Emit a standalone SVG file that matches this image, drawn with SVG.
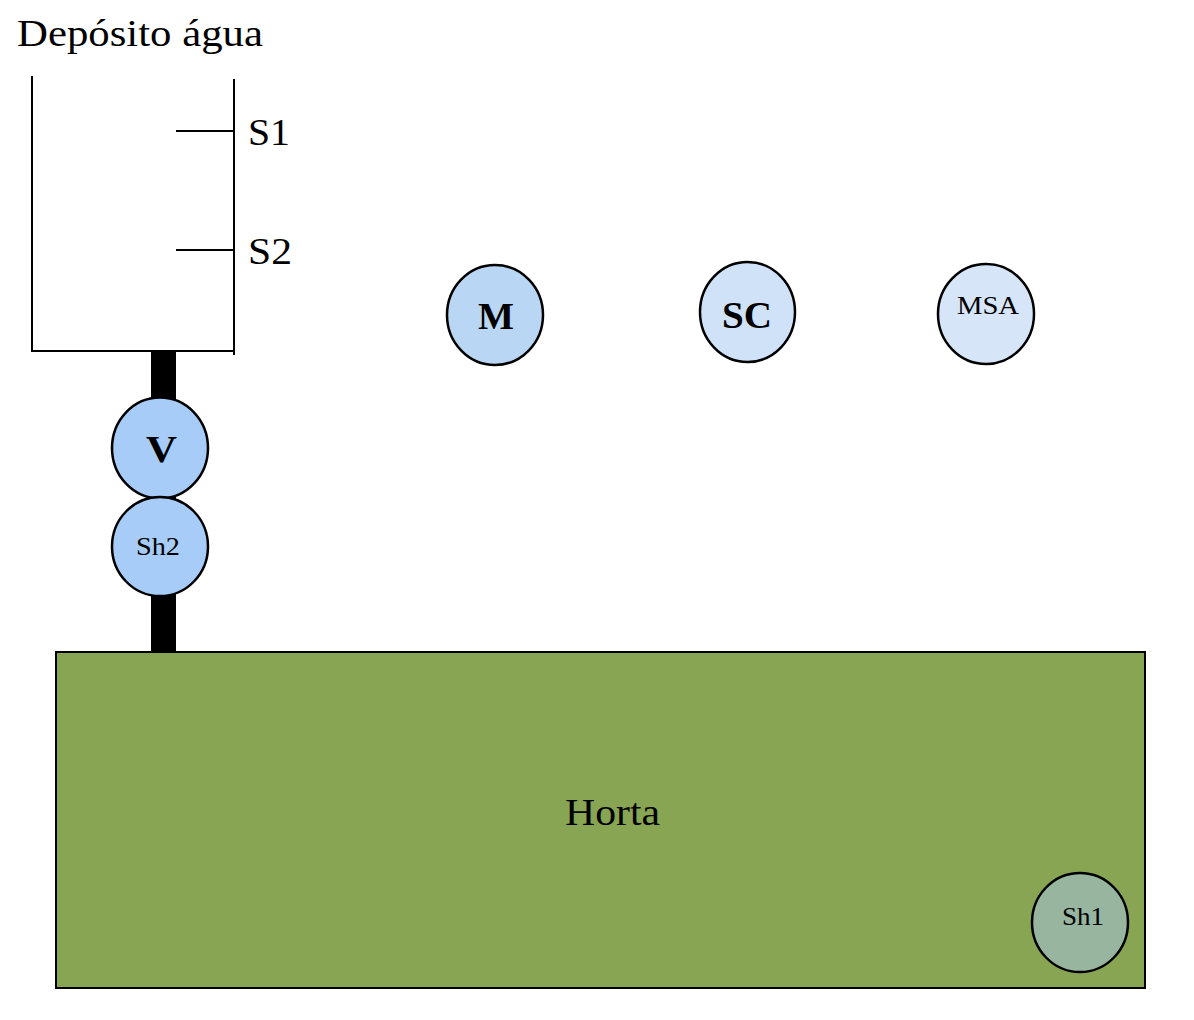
<svg xmlns="http://www.w3.org/2000/svg" width="1194" height="1020" viewBox="0 0 1194 1020">
<style>
text{font-family:"Liberation Serif","Times New Roman",serif;fill:#000}
.big{font-size:38px}
.sm{font-size:25px}
.b{font-weight:bold}
.node{stroke:#000;stroke-width:2.5}
.ln{stroke:#000;stroke-width:2;fill:none}
</style>
<rect width="1194" height="1020" fill="#fff"/>
<text class="big" x="17" y="46" textLength="246" lengthAdjust="spacingAndGlyphs">Depósito água</text>
<g id="tank">
<path class="ln" d="M32 76 V351 H234 M234 79 V355 M176 131 H234 M176 250 H234"/>
<text class="big" x="248" y="145" textLength="42" lengthAdjust="spacingAndGlyphs">S1</text>
<text class="big" x="248" y="264" textLength="44" lengthAdjust="spacingAndGlyphs">S2</text>
</g>
<g id="connectors">
<rect x="151" y="351" width="25" height="301" fill="#000"/>
</g>
<g id="horta">
<rect x="56" y="652" width="1089" height="336" fill="#88a553" stroke="#000" stroke-width="2"/>
<text class="big" x="565" y="825" textLength="95" lengthAdjust="spacingAndGlyphs">Horta</text>
</g>
<g id="V">
<ellipse class="node" cx="160" cy="448" rx="48" ry="50.5" fill="#a6ccf7"/>
<text class="big b" x="146" y="462" textLength="31" lengthAdjust="spacingAndGlyphs">V</text>
</g>
<g id="Sh2">
<ellipse class="node" cx="160" cy="546.5" rx="48" ry="49.5" fill="#a6ccf7"/>
<text class="sm" x="136" y="555" textLength="44" lengthAdjust="spacingAndGlyphs">Sh2</text>
</g>
<g id="M">
<ellipse class="node" cx="495" cy="315" rx="48" ry="50" fill="#b9d6f5"/>
<text class="big b" x="478" y="329" textLength="36" lengthAdjust="spacingAndGlyphs">M</text>
</g>
<g id="SC">
<ellipse class="node" cx="747.5" cy="312" rx="47.5" ry="50" fill="#cfe2f7"/>
<text class="big b" x="722" y="328" textLength="50" lengthAdjust="spacingAndGlyphs">SC</text>
</g>
<g id="MSA">
<ellipse class="node" cx="986" cy="314" rx="48" ry="50" fill="#d6e6f8"/>
<text class="sm" x="957" y="314" textLength="62" lengthAdjust="spacingAndGlyphs">MSA</text>
</g>
<g id="Sh1">
<ellipse class="node" cx="1080" cy="922.5" rx="48" ry="49.5" fill="#98b5a0"/>
<text class="sm" x="1062" y="925" textLength="42" lengthAdjust="spacingAndGlyphs">Sh1</text>
</g>
</svg>
